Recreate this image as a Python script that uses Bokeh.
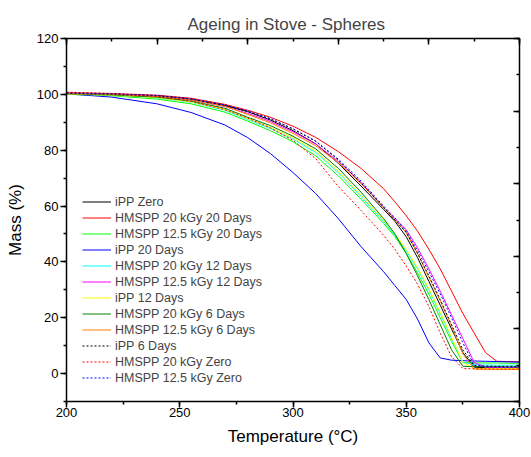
from bokeh.plotting import figure
from bokeh.models import Range1d, LinearAxis, SingleIntervalTicker, CustomJSTickFormatter
from bokeh.embed import file_html
from bokeh.resources import INLINE

temperature = [200, 220, 240, 255, 270, 280, 290, 300, 310, 320, 330, 340, 345, 350,
               355, 360, 365, 370, 375, 380, 385, 390, 395, 400]

ipp_zero = [100.3, 100.0, 99.4, 98.2, 96.0, 93.8, 90.8, 87.0, 82.3, 75.3, 67.2, 58.8, 54.5, 49.0,
            41.5, 33.0, 24.5, 16.0, 7.5, 2.3, 2.1, 2.1, 2.0, 2.0]
hmspp20_20d = [100.6, 100.3, 99.7, 98.6, 96.4, 94.3, 91.8, 88.6, 84.6, 79.5, 73.5, 66.2, 61.5, 56.5,
               51.0, 44.5, 37.5, 29.5, 21.5, 14.5, 7.5, 4.4, 4.3, 4.2]
hmspp125_20d = [100.0, 99.5, 98.3, 96.6, 93.6, 90.4, 87.0, 83.0, 78.0, 70.8, 62.5, 53.8, 49.0, 43.0,
                36.0, 28.5, 20.0, 11.5, 4.0, 3.8, 3.8, 3.8, 3.7, 3.7]
ipp_20d = [100.2, 99.0, 96.6, 93.5, 89.0, 84.5, 78.8, 72.0, 64.5, 55.5, 45.5, 36.5, 31.5, 26.5,
           19.5, 11.0, 5.6, 4.8, 4.6, 4.5, 4.4, 4.3, 4.2, 4.1]
hmspp20_12d = [100.1, 99.7, 98.7, 97.2, 94.3, 91.0, 87.8, 84.0, 79.2, 72.0, 63.5, 54.5, 49.5, 44.0,
               37.5, 30.0, 21.5, 12.5, 4.0, 3.2, 3.1, 3.0, 3.0, 3.0]
hmspp125_12d = [100.2, 99.9, 99.3, 98.0, 95.6, 93.2, 90.3, 86.6, 82.2, 76.0, 68.5, 59.5, 55.5, 51.5,
                45.0, 37.5, 29.5, 21.0, 12.5, 4.0, 2.3, 2.2, 2.2, 2.2]
ipp_12d = [100.1, 99.7, 98.8, 97.3, 94.6, 91.3, 88.2, 84.4, 79.7, 72.5, 64.0, 55.0, 50.0, 44.5,
           38.0, 30.5, 22.0, 13.0, 4.0, 1.8, 1.8, 1.8, 1.8, 1.8]
hmspp20_6d = [100.2, 99.8, 99.0, 97.6, 95.0, 91.8, 88.8, 85.0, 80.5, 73.5, 65.0, 55.5, 50.0, 43.0,
              35.0, 26.5, 17.5, 8.5, 2.6, 2.5, 2.5, 2.5, 2.4, 2.4]
hmspp125_6d = [100.3, 100.0, 99.3, 98.0, 95.7, 92.8, 89.8, 86.0, 81.6, 75.5, 68.0, 59.5, 55.0, 50.5,
               43.0, 34.5, 26.0, 17.0, 7.0, 1.6, 1.5, 1.5, 1.5, 1.5]
ipp_6d = [100.4, 100.1, 99.5, 98.3, 96.1, 93.9, 91.2, 87.6, 83.2, 76.5, 68.3, 59.5, 55.0, 50.5,
          43.0, 35.0, 26.5, 17.5, 8.5, 2.8, 2.7, 2.6, 2.6, 2.6]
hmspp20_zero = [100.8, 100.3, 99.2, 97.5, 94.5, 91.5, 88.0, 83.5, 77.0, 67.0, 58.5, 49.5, 44.5, 38.5,
                32.0, 24.0, 14.5, 6.0, 1.8, 1.7, 1.7, 1.6, 1.6, 1.6]
hmspp125_zero = [100.5, 100.2, 99.6, 98.4, 96.2, 94.0, 91.3, 87.7, 83.3, 76.8, 69.0, 60.0, 55.8, 51.0,
                 44.0, 36.5, 28.5, 20.0, 11.0, 3.0, 2.4, 2.3, 2.3, 2.3]

series_names = ["iPP Zero", "HMSPP 20 kGy 20 Days", "HMSPP 12.5 kGy 20 Days", "iPP 20 Days",
                "HMSPP 20 kGy 12 Days", "HMSPP 12.5 kGy 12 Days", "iPP 12 Days",
                "HMSPP 20 kGy 6 Days", "HMSPP 12.5 kGy 6 Days", "iPP 6 Days",
                "HMSPP 20 kGy Zero", "HMSPP 12.5 kGy Zero"]
series_values = [ipp_zero, hmspp20_20d, hmspp125_20d, ipp_20d, hmspp20_12d, hmspp125_12d,
                 ipp_12d, hmspp20_6d, hmspp125_6d, ipp_6d, hmspp20_zero, hmspp125_zero]
series_colors = ["#000000", "#ff0000", "#00ff00", "#0000ff", "#00ffff", "#ff00ff",
                 "#ffff00", "#008000", "#ff8000", "#000000", "#ff0000", "#0000ff"]
series_dash = ["solid"] * 9 + ["2 2"] * 3

FONT = "Liberation Sans"

p = figure(width=531, height=457, x_range=Range1d(200, 400), y_range=Range1d(-10, 120),
           output_backend="svg", toolbar_location=None,
           min_border_left=66, min_border_right=12, min_border_top=38, min_border_bottom=56)
p.outline_line_color = None
p.xgrid.visible = False
p.ygrid.visible = False

p.title.text = "Ageing in Stove - Spheres"
p.title.align = "left"
p.title.offset = 121
p.title.text_font = FONT
p.title.text_font_size = "17px"
p.title.text_font_style = "normal"

xa = p.below[0]
xa.ticker = SingleIntervalTicker(interval=50, num_minor_ticks=2)
xa.axis_label = "Temperature (°C)"
ya = p.left[0]
ya.ticker = SingleIntervalTicker(interval=20, num_minor_ticks=2)
ya.axis_label = "Mass (%)"
for ax in (xa, ya):
    ax.axis_line_width = 1.5
    ax.major_tick_out = 6
    ax.major_tick_in = 0
    ax.minor_tick_out = 3
    ax.minor_tick_in = 0
    ax.major_tick_line_width = 1.5
    ax.minor_tick_line_width = 1.5
    ax.major_label_text_font = FONT
    ax.major_label_text_font_size = "13px"
    ax.major_label_text_color = "#000000"
    ax.axis_label_text_font = FONT
    ax.axis_label_text_font_size = "17px"
    ax.axis_label_text_font_style = "normal"
    ax.axis_label_text_color = "#000000"
    ax.major_label_standoff = 2
xa.major_label_standoff = 0
xa.axis_label_standoff = 7
ya.axis_label_standoff = 9

p.extra_x_ranges = {"top": Range1d(0, 10)}
p.extra_y_ranges = {"right": Range1d(0, 10)}
ta = LinearAxis(x_range_name="top", ticker=SingleIntervalTicker(interval=2, num_minor_ticks=2),
                formatter=CustomJSTickFormatter(code="return ''"))
ra = LinearAxis(y_range_name="right", ticker=SingleIntervalTicker(interval=2, num_minor_ticks=2),
                formatter=CustomJSTickFormatter(code="return ''"))
for ax in (ta, ra):
    ax.axis_line_width = 1.5
    ax.major_tick_in = 6
    ax.major_tick_out = 0
    ax.minor_tick_in = 3
    ax.minor_tick_out = 0
    ax.major_tick_line_width = 1.5
    ax.minor_tick_line_width = 1.5
    ax.major_label_text_font_size = "1px"
    ax.major_label_standoff = 0
p.add_layout(ta, "above")
p.add_layout(ra, "right")

for name, vals, col, dash in zip(series_names, series_values, series_colors, series_dash):
    p.line(temperature, vals, line_color=col, line_width=1, line_dash=dash, legend_label=name)

lg = p.legend[0]
lg.location = (16, 16)
lg.border_line_color = None
lg.background_fill_alpha = 0
lg.label_text_font = FONT
lg.label_text_font_size = "12.5px"
lg.glyph_width = 29
lg.glyph_height = 15
lg.label_height = 15
lg.spacing = 1
lg.padding = 0
lg.margin = 0
lg.label_standoff = 4

open("out.html", "w").write(file_html(p, INLINE))
